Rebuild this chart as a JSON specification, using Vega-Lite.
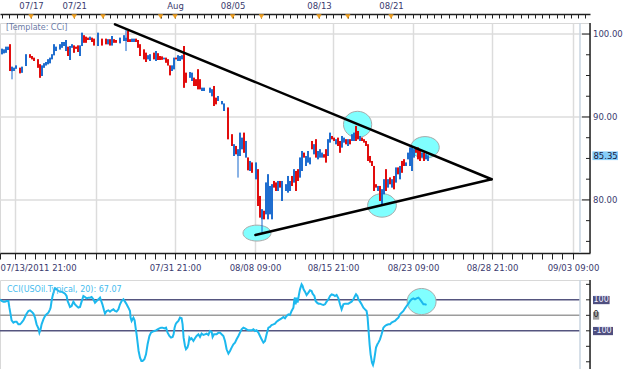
{
  "$schema": "https://vega.github.io/schema/vega-lite/v6.json",
  "padding": {"top": 0, "left": -5, "right": 0, "bottom": 0},
  "background": "#ffffff",
  "bounds": "flush",
  "spacing": 27,
  "config": {
    "view": {"stroke": "#d8d8d8", "strokeWidth": 1},
    "font": "DejaVu Sans",
    "text": {"font": "DejaVu Sans"},
    "axis": {"labelFont": "DejaVu Sans"}
  },
  "datasets": {
    "candles": [
      {"bar":1,"o":97.55,"h":98.23,"l":97.55,"c":98.23},{"bar":2,"o":97.67,"h":98.15,"l":97.67,"c":98.15},{"bar":3,"o":97.75,"h":98.47,"l":97.75,"c":98.47},{"bar":4,"o":98.07,"h":98.47,"l":98.07,"c":98.47},{"bar":5,"o":98.76,"h":98.76,"l":95.54,"c":95.54},{"bar":6,"o":95.5,"h":96.06,"l":94.54,"c":96.06},{"bar":7,"o":95.54,"h":95.94,"l":95.54,"c":95.94},{"bar":8,"o":95.82,"h":96.22,"l":95.82,"c":96.22},{"bar":10,"o":95.94,"h":95.94,"l":95.26,"c":95.26},{"bar":11,"o":95.34,"h":96.06,"l":95.34,"c":96.06},
      {"bar":13,"o":96.14,"h":97.55,"l":96.14,"c":97.55},{"bar":15,"o":97.55,"h":97.55,"l":97.15,"c":97.15},{"bar":16,"o":97.35,"h":97.35,"l":96.95,"c":96.95},{"bar":17,"o":97.15,"h":97.15,"l":96.75,"c":96.75},{"bar":19,"o":96.95,"h":96.95,"l":95.94,"c":95.94},{"bar":20,"o":96.35,"h":96.35,"l":94.74,"c":94.74},{"bar":21,"o":94.94,"h":96.22,"l":94.94,"c":96.22},{"bar":22,"o":95.94,"h":96.47,"l":95.94,"c":96.47},{"bar":23,"o":96.22,"h":96.63,"l":96.22,"c":96.63},{"bar":24,"o":96.35,"h":96.95,"l":96.35,"c":96.95},
      {"bar":25,"o":96.47,"h":97.15,"l":96.47,"c":97.15},{"bar":26,"o":96.95,"h":97.55,"l":96.95,"c":97.55},{"bar":27,"o":97.43,"h":98.76,"l":97.43,"c":98.76},{"bar":28,"o":97.95,"h":98.47,"l":97.95,"c":98.47},{"bar":30,"o":98.15,"h":98.76,"l":98.15,"c":98.76},{"bar":31,"o":98.35,"h":99.04,"l":98.35,"c":99.04},{"bar":32,"o":98.55,"h":99.04,"l":98.55,"c":99.04},{"bar":33,"o":97.95,"h":99.28,"l":97.95,"c":99.28},{"bar":34,"o":98.47,"h":98.47,"l":97.35,"c":97.35},{"bar":35,"o":96.87,"h":98.55,"l":96.87,"c":98.55},
      {"bar":36,"o":98.35,"h":98.76,"l":98.35,"c":98.76},{"bar":37,"o":98.63,"h":98.63,"l":97.75,"c":97.75},{"bar":38,"o":98.47,"h":98.47,"l":98.23,"c":98.23},{"bar":39,"o":98.63,"h":98.63,"l":97.83,"c":97.83},{"bar":40,"o":97.35,"h":98.63,"l":97.35,"c":98.63},{"bar":41,"o":98.55,"h":100.16,"l":98.55,"c":100.16},{"bar":42,"o":99.84,"h":99.84,"l":98.96,"c":98.96},{"bar":43,"o":99.68,"h":99.68,"l":98.96,"c":98.96},{"bar":44,"o":99.56,"h":99.56,"l":99.28,"c":99.28},{"bar":45,"o":99.28,"h":99.68,"l":99.28,"c":99.68},
      {"bar":46,"o":99.56,"h":99.56,"l":99.04,"c":99.04},{"bar":47,"o":99.44,"h":99.44,"l":98.63,"c":98.63},{"bar":49,"o":98.55,"h":100.16,"l":98.55,"c":100.16},{"bar":51,"o":99.44,"h":99.44,"l":98.63,"c":98.63},{"bar":53,"o":99.44,"h":99.44,"l":98.76,"c":98.76},{"bar":54,"o":98.76,"h":99.36,"l":98.76,"c":99.36},{"bar":55,"o":99.36,"h":99.36,"l":98.63,"c":98.63},{"bar":56,"o":98.63,"h":99.76,"l":98.63,"c":99.76},{"bar":57,"o":99.36,"h":99.36,"l":98.96,"c":98.96},{"bar":58,"o":99.28,"h":99.28,"l":98.96,"c":98.96},
      {"bar":60,"o":98.88,"h":99.56,"l":98.88,"c":99.56},{"bar":62,"o":99.16,"h":99.84,"l":99.16,"c":99.84},{"bar":63,"o":99.16,"h":100.48,"l":97.95,"c":99.56},{"bar":64,"o":100.36,"h":100.36,"l":99.04,"c":99.04},{"bar":65,"o":99.36,"h":99.36,"l":99.04,"c":99.04},{"bar":66,"o":99.04,"h":99.44,"l":99.04,"c":99.44},{"bar":67,"o":99.04,"h":99.44,"l":99.04,"c":99.44},{"bar":68,"o":99.44,"h":99.44,"l":99.04,"c":99.04},{"bar":69,"o":99.28,"h":99.28,"l":98.35,"c":98.35},{"bar":70,"o":98.76,"h":98.76,"l":97.35,"c":97.35},
      {"bar":72,"o":98.15,"h":98.15,"l":96.95,"c":96.95},{"bar":73,"o":97.75,"h":97.75,"l":96.63,"c":96.63},{"bar":74,"o":96.95,"h":97.43,"l":96.95,"c":97.43},{"bar":75,"o":96.75,"h":97.55,"l":96.75,"c":97.55},{"bar":77,"o":97.75,"h":97.75,"l":96.95,"c":96.95},{"bar":78,"o":96.75,"h":97.95,"l":96.75,"c":97.95},{"bar":79,"o":97.67,"h":97.67,"l":96.87,"c":96.87},{"bar":80,"o":97.35,"h":97.35,"l":96.87,"c":96.87},{"bar":81,"o":97.3,"h":97.3,"l":96.9,"c":96.9},{"bar":82,"o":96.95,"h":97.15,"l":96.95,"c":97.15},
      {"bar":83,"o":97.15,"h":97.15,"l":96.55,"c":96.55},{"bar":84,"o":96.95,"h":96.95,"l":96.22,"c":96.22},{"bar":85,"o":96.22,"h":96.22,"l":95.02,"c":95.02},{"bar":86,"o":95.54,"h":96.22,"l":95.54,"c":96.22},{"bar":87,"o":95.74,"h":97.15,"l":95.74,"c":97.15},{"bar":88,"o":97.15,"h":97.15,"l":96.95,"c":96.95},{"bar":89,"o":96.75,"h":97.43,"l":96.75,"c":97.43},{"bar":90,"o":96.75,"h":97.35,"l":96.75,"c":97.35},{"bar":91,"o":96.95,"h":97.43,"l":96.95,"c":97.43},{"bar":92,"o":98.55,"h":98.55,"l":93.53,"c":93.53},
      {"bar":93,"o":95.34,"h":95.34,"l":94.14,"c":94.14},{"bar":95,"o":94.74,"h":95.42,"l":94.74,"c":95.42},{"bar":96,"o":94.34,"h":95.34,"l":94.34,"c":95.34},{"bar":97,"o":94.74,"h":94.74,"l":93.74,"c":93.74},{"bar":98,"o":94.54,"h":94.54,"l":93.74,"c":93.74},{"bar":99,"o":95.74,"h":95.74,"l":93.33,"c":93.33},{"bar":100,"o":94.54,"h":94.54,"l":93.33,"c":93.33},{"bar":101,"o":93.13,"h":93.53,"l":93.13,"c":93.53},{"bar":102,"o":93.13,"h":93.53,"l":93.13,"c":93.53},{"bar":105,"o":92.93,"h":93.53,"l":92.93,"c":93.53},
      {"bar":106,"o":92.5,"h":93.33,"l":92.5,"c":93.33},{"bar":107,"o":93.74,"h":93.74,"l":91.32,"c":91.32},{"bar":108,"o":92.33,"h":92.33,"l":91.53,"c":91.53},{"bar":109,"o":91.93,"h":92.53,"l":91.93,"c":92.53},{"bar":111,"o":91.53,"h":91.93,"l":91.53,"c":91.93},{"bar":112,"o":90.72,"h":91.61,"l":90.72,"c":91.61},{"bar":114,"o":91.13,"h":91.13,"l":87.31,"c":87.31},{"bar":116,"o":87.91,"h":87.91,"l":86.51,"c":86.51},{"bar":117,"o":85.3,"h":86.71,"l":85.3,"c":86.71},{"bar":118,"o":86.51,"h":86.51,"l":85.5,"c":85.5},
      {"bar":119,"o":85.3,"h":86.11,"l":82.69,"c":86.11},{"bar":120,"o":85.3,"h":88.11,"l":85.3,"c":88.11},{"bar":121,"o":86.11,"h":87.51,"l":86.11,"c":87.51},{"bar":122,"o":88.11,"h":88.11,"l":85.7,"c":85.7},{"bar":123,"o":85.1,"h":87.11,"l":85.1,"c":87.11},{"bar":124,"o":85.1,"h":85.1,"l":83.58,"c":83.58},{"bar":125,"o":83.49,"h":84.7,"l":83.49,"c":84.7},{"bar":126,"o":84.5,"h":84.5,"l":83.29,"c":83.29},{"bar":128,"o":82.49,"h":84.5,"l":82.49,"c":84.5},{"bar":129,"o":83.7,"h":83.7,"l":79.28,"c":79.28},
      {"bar":130,"o":80.48,"h":80.48,"l":77.87,"c":77.87},{"bar":131,"o":77.67,"h":78.88,"l":76.07,"c":78.88},{"bar":132,"o":78.68,"h":78.68,"l":77.67,"c":77.67},{"bar":133,"o":78.27,"h":82.09,"l":78.27,"c":82.09},{"bar":134,"o":77.67,"h":83.09,"l":77.67,"c":83.09},{"bar":135,"o":78.27,"h":81.69,"l":78.27,"c":81.69},{"bar":136,"o":77.67,"h":81.89,"l":77.67,"c":81.89},{"bar":137,"o":82.29,"h":82.29,"l":81.49,"c":81.49},{"bar":138,"o":82.09,"h":82.09,"l":81.08,"c":81.08},{"bar":139,"o":81.08,"h":82.29,"l":81.08,"c":82.29},
      {"bar":140,"o":82.29,"h":82.29,"l":81.49,"c":81.49},{"bar":141,"o":79.88,"h":82.29,"l":79.88,"c":82.29},{"bar":143,"o":81.08,"h":81.89,"l":81.08,"c":81.89},{"bar":144,"o":80.88,"h":82.89,"l":80.88,"c":82.89},{"bar":145,"o":81.08,"h":82.29,"l":81.08,"c":82.29},{"bar":146,"o":82.89,"h":82.89,"l":81.69,"c":81.69},{"bar":147,"o":82.09,"h":83.7,"l":82.09,"c":83.7},{"bar":148,"o":83.49,"h":83.49,"l":81.08,"c":81.08},{"bar":149,"o":83.7,"h":83.7,"l":82.29,"c":82.29},{"bar":150,"o":82.69,"h":85.1,"l":82.69,"c":85.1},
      {"bar":151,"o":83.49,"h":85.9,"l":83.49,"c":85.9},{"bar":152,"o":85.7,"h":85.7,"l":85.1,"c":85.1},{"bar":153,"o":84.1,"h":85.3,"l":84.1,"c":85.3},{"bar":154,"o":84.5,"h":85.9,"l":84.5,"c":85.9},{"bar":155,"o":84.3,"h":85.1,"l":84.3,"c":85.1},{"bar":156,"o":87.11,"h":87.11,"l":86.11,"c":86.11},{"bar":157,"o":85.5,"h":86.71,"l":85.5,"c":86.71},{"bar":158,"o":87.31,"h":87.31,"l":85.1,"c":85.1},{"bar":159,"o":84.9,"h":85.9,"l":84.9,"c":85.9},{"bar":160,"o":85.1,"h":86.11,"l":85.1,"c":86.11},
      {"bar":161,"o":85.1,"h":85.7,"l":85.1,"c":85.7},{"bar":162,"o":85.5,"h":85.5,"l":85.1,"c":85.1},{"bar":163,"o":86.11,"h":86.11,"l":84.5,"c":84.5},{"bar":164,"o":85.3,"h":87.31,"l":85.3,"c":87.31},{"bar":165,"o":86.91,"h":88.11,"l":86.91,"c":88.11},{"bar":166,"o":87.71,"h":87.71,"l":87.31,"c":87.31},{"bar":167,"o":87.51,"h":87.51,"l":87.11,"c":87.11},{"bar":168,"o":86.71,"h":87.31,"l":86.71,"c":87.31},{"bar":169,"o":87.51,"h":87.51,"l":86.51,"c":86.51},{"bar":170,"o":87.11,"h":87.11,"l":85.7,"c":85.7},
      {"bar":171,"o":86.31,"h":87.71,"l":86.31,"c":87.71},{"bar":172,"o":86.91,"h":87.51,"l":86.91,"c":87.51},{"bar":173,"o":87.31,"h":87.31,"l":86.71,"c":86.71},{"bar":174,"o":86.51,"h":87.31,"l":86.51,"c":87.31},{"bar":175,"o":87.31,"h":87.31,"l":86.71,"c":86.71},{"bar":176,"o":87.11,"h":87.91,"l":87.11,"c":87.91},{"bar":177,"o":87.11,"h":88.11,"l":87.11,"c":88.11},{"bar":178,"o":88.92,"h":88.92,"l":87.11,"c":87.11},{"bar":179,"o":88.31,"h":88.31,"l":87.31,"c":87.31},{"bar":180,"o":87.11,"h":87.71,"l":87.11,"c":87.71},
      {"bar":181,"o":87.51,"h":87.51,"l":87.11,"c":87.11},{"bar":182,"o":87.31,"h":87.31,"l":86.91,"c":86.91},{"bar":183,"o":87.11,"h":87.11,"l":86.51,"c":86.51},{"bar":184,"o":86.71,"h":86.71,"l":84.7,"c":84.7},{"bar":185,"o":85.3,"h":85.3,"l":84.5,"c":84.5},{"bar":186,"o":84.7,"h":84.7,"l":84.1,"c":84.1},{"bar":187,"o":84.1,"h":84.1,"l":81.08,"c":81.08},{"bar":188,"o":81.89,"h":81.89,"l":81.49,"c":81.49},{"bar":189,"o":81.08,"h":81.69,"l":81.08,"c":81.69},{"bar":190,"o":81.69,"h":81.69,"l":79.88,"c":79.88},
      {"bar":191,"o":79.48,"h":81.29,"l":79.48,"c":81.29},{"bar":192,"o":80.68,"h":82.49,"l":80.68,"c":82.49},{"bar":193,"o":83.7,"h":83.7,"l":81.08,"c":81.08},{"bar":194,"o":81.49,"h":82.49,"l":81.49,"c":82.49},{"bar":195,"o":82.69,"h":82.69,"l":81.89,"c":81.89},{"bar":196,"o":81.49,"h":82.49,"l":81.49,"c":82.49},{"bar":197,"o":82.89,"h":82.89,"l":81.29,"c":81.29},{"bar":198,"o":82.09,"h":83.9,"l":82.09,"c":83.9},{"bar":199,"o":83.9,"h":83.9,"l":83.09,"c":83.09},{"bar":200,"o":82.49,"h":84.1,"l":82.49,"c":84.1},
      {"bar":201,"o":84.7,"h":84.7,"l":83.29,"c":83.29},{"bar":202,"o":84.9,"h":84.9,"l":84.1,"c":84.1},{"bar":203,"o":84.1,"h":84.5,"l":84.1,"c":84.5},{"bar":204,"o":84.9,"h":85.7,"l":84.9,"c":85.7},{"bar":205,"o":84.1,"h":86.31,"l":84.1,"c":86.31},{"bar":206,"o":83.49,"h":86.31,"l":83.49,"c":86.31},{"bar":207,"o":85.1,"h":86.11,"l":85.1,"c":86.11},{"bar":208,"o":86.31,"h":86.31,"l":85.7,"c":85.7},{"bar":209,"o":86.31,"h":86.31,"l":84.9,"c":84.9},{"bar":210,"o":86.11,"h":86.11,"l":84.7,"c":84.7},
      {"bar":211,"o":85.1,"h":85.7,"l":85.1,"c":85.7},{"bar":212,"o":85.7,"h":85.7,"l":84.7,"c":84.7},{"bar":213,"o":84.9,"h":85.5,"l":84.9,"c":85.5},{"bar":214,"o":84.7,"h":85.4,"l":84.7,"c":85.35}
    ],
    "cci": [
      {"bar":0,"cci":103.2},{"bar":0.8,"cci":92.5},{"bar":1.7,"cci":88.2},{"bar":2.5,"cci":88.2},{"bar":3.3,"cci":92.5},{"bar":4.2,"cci":92.5},{"bar":4.7,"cci":49.5},{"bar":5.3,"cci":6.5},{"bar":5.8,"cci":-32.3},{"bar":6.7,"cci":-47.3},
      {"bar":7.5,"cci":-40.9},{"bar":8.3,"cci":-40.9},{"bar":9.2,"cci":-58.1},{"bar":10,"cci":-58.1},{"bar":10.8,"cci":-47.3},{"bar":11.7,"cci":-32.3},{"bar":12.5,"cci":-10.8},{"bar":13.3,"cci":10.8},{"bar":14.2,"cci":28},{"bar":15,"cci":32.3},
      {"bar":15.8,"cci":23.7},{"bar":16.7,"cci":10.8},{"bar":17.5,"cci":-15.1},{"bar":18.3,"cci":-58.1},{"bar":19.2,"cci":-83.9},{"bar":19.7,"cci":-111.9},{"bar":20.3,"cci":-90.3},{"bar":20.8,"cci":-58.1},{"bar":21.7,"cci":-25.8},{"bar":22.5,"cci":-4.3},
      {"bar":23.3,"cci":6.5},{"bar":24.2,"cci":17.2},{"bar":25,"cci":38.7},{"bar":25.3,"cci":49.5},{"bar":25.8,"cci":92.5},{"bar":26.3,"cci":124.8},{"bar":27,"cci":157},{"bar":27.5,"cci":174.2},{"bar":28.3,"cci":167.8},{"bar":29.2,"cci":157},
      {"bar":30,"cci":152.7},{"bar":30.8,"cci":152.7},{"bar":31.7,"cci":146.3},{"bar":32.5,"cci":139.8},{"bar":33.3,"cci":124.8},{"bar":33.8,"cci":92.5},{"bar":34.5,"cci":71},{"bar":35,"cci":53.8},{"bar":35.8,"cci":60.2},{"bar":36.7,"cci":88.2},
      {"bar":37.5,"cci":71},{"bar":38.3,"cci":60.2},{"bar":39.2,"cci":49.5},{"bar":40,"cci":53.8},{"bar":40.8,"cci":88.2},{"bar":41.7,"cci":124.8},{"bar":42.5,"cci":118.3},{"bar":43.3,"cci":109.7},{"bar":44.2,"cci":114},{"bar":45,"cci":114},
      {"bar":45.8,"cci":118.3},{"bar":46.7,"cci":103.2},{"bar":47.5,"cci":81.7},{"bar":48.3,"cci":92.5},{"bar":49.2,"cci":103.2},{"bar":50,"cci":114},{"bar":50.5,"cci":96.8},{"bar":51.2,"cci":71},{"bar":52,"cci":32.3},{"bar":52.5,"cci":10.8},
      {"bar":53.3,"cci":28},{"bar":54.2,"cci":32.3},{"bar":55,"cci":23.7},{"bar":55.8,"cci":32.3},{"bar":56.7,"cci":38.7},{"bar":57.5,"cci":28},{"bar":58.3,"cci":23.7},{"bar":59.2,"cci":38.7},{"bar":60,"cci":71},{"bar":60.8,"cci":92.5},
      {"bar":61.7,"cci":103.2},{"bar":62.5,"cci":88.2},{"bar":63.3,"cci":71},{"bar":64.2,"cci":49.5},{"bar":65,"cci":28},{"bar":65.3,"cci":-15.1},{"bar":65.8,"cci":-36.6},{"bar":66.7,"cci":-15.1},{"bar":67.3,"cci":-32.3},{"bar":67.8,"cci":-79.6},
      {"bar":68.3,"cci":-122.6},{"bar":68.8,"cci":-176.4},{"bar":69.3,"cci":-230.2},{"bar":70,"cci":-273.2},{"bar":70.7,"cci":-294.7},{"bar":71.3,"cci":-294.7},{"bar":72.2,"cci":-284},{"bar":73,"cci":-251.7},{"bar":73.8,"cci":-187.1},{"bar":74.7,"cci":-133.4},
      {"bar":75.5,"cci":-111.9},{"bar":76.3,"cci":-105.4},{"bar":77.2,"cci":-101.1},{"bar":78,"cci":-96.8},{"bar":78.8,"cci":-90.3},{"bar":79.7,"cci":-83.9},{"bar":80.5,"cci":-79.6},{"bar":81.3,"cci":-79.6},{"bar":82.2,"cci":-83.9},{"bar":83,"cci":-79.6},
      {"bar":83.8,"cci":-111.9},{"bar":84.7,"cci":-133.4},{"bar":85.5,"cci":-144.1},{"bar":86.3,"cci":-139.8},{"bar":86.8,"cci":-122.6},{"bar":87.3,"cci":-79.6},{"bar":87.8,"cci":-58.1},{"bar":88.3,"cci":-47.3},{"bar":89.2,"cci":-36.6},{"bar":90,"cci":-15.1},
      {"bar":90.8,"cci":-19.4},{"bar":91.3,"cci":-58.1},{"bar":91.8,"cci":-144.1},{"bar":92.5,"cci":-197.9},{"bar":93,"cci":-219.4},{"bar":93.7,"cci":-208.6},{"bar":94.2,"cci":-187.1},{"bar":94.7,"cci":-144.1},{"bar":95.3,"cci":-154.9},{"bar":95.8,"cci":-148.4},
      {"bar":96.7,"cci":-165.6},{"bar":97.5,"cci":-148.4},{"bar":98.3,"cci":-133.4},{"bar":99.2,"cci":-122.6},{"bar":100,"cci":-139.8},{"bar":100.8,"cci":-118.3},{"bar":101.7,"cci":-126.9},{"bar":102.5,"cci":-122.6},{"bar":103.3,"cci":-118.3},{"bar":104.2,"cci":-126.9},
      {"bar":105,"cci":-101.1},{"bar":105.8,"cci":-105.4},{"bar":106.3,"cci":-139.8},{"bar":107,"cci":-122.6},{"bar":107.5,"cci":-122.6},{"bar":108.3,"cci":-122.6},{"bar":109.2,"cci":-111.9},{"bar":110,"cci":-111.9},{"bar":110.8,"cci":-122.6},{"bar":111.7,"cci":-133.4},
      {"bar":112.5,"cci":-165.6},{"bar":113.3,"cci":-219.4},{"bar":114.2,"cci":-247.4},{"bar":115,"cci":-230.2},{"bar":115.8,"cci":-208.6},{"bar":116.7,"cci":-187.1},{"bar":117.5,"cci":-176.4},{"bar":118.3,"cci":-154.9},{"bar":119.2,"cci":-133.4},{"bar":120,"cci":-111.9},
      {"bar":120.8,"cci":-90.3},{"bar":121.7,"cci":-79.6},{"bar":122.5,"cci":-83.9},{"bar":123.3,"cci":-90.3},{"bar":124.2,"cci":-96.8},{"bar":125,"cci":-96.8},{"bar":125.8,"cci":-96.8},{"bar":126.7,"cci":-90.3},{"bar":127.5,"cci":-101.1},{"bar":128.3,"cci":-96.8},
      {"bar":129.2,"cci":-111.9},{"bar":130,"cci":-133.4},{"bar":130.8,"cci":-154.9},{"bar":131.7,"cci":-176.4},{"bar":132.5,"cci":-165.6},{"bar":133.3,"cci":-122.6},{"bar":134.2,"cci":-79.6},{"bar":135,"cci":-75.3},{"bar":135.8,"cci":-62.4},{"bar":136.7,"cci":-58.1},
      {"bar":137.5,"cci":-53.8},{"bar":138.3,"cci":-40.9},{"bar":139.2,"cci":-32.3},{"bar":140,"cci":-25.8},{"bar":140.8,"cci":-19.4},{"bar":141.7,"cci":-10.8},{"bar":142.5,"cci":-19.4},{"bar":143.3,"cci":-4.3},{"bar":144.2,"cci":6.5},{"bar":145,"cci":2.2},
      {"bar":145.8,"cci":28},{"bar":146.7,"cci":49.5},{"bar":147.2,"cci":103.2},{"bar":147.5,"cci":114},{"bar":147.8,"cci":71},{"bar":148.3,"cci":114},{"bar":148.8,"cci":81.7},{"bar":149.5,"cci":135.5},{"bar":150,"cci":167.8},{"bar":150.8,"cci":200},
      {"bar":151.3,"cci":189.3},{"bar":151.8,"cci":167.8},{"bar":152.5,"cci":152.7},{"bar":153.3,"cci":131.2},{"bar":154.2,"cci":146.3},{"bar":155,"cci":161.3},{"bar":155.8,"cci":157},{"bar":156.3,"cci":139.8},{"bar":157.2,"cci":124.8},{"bar":157.8,"cci":92.5},
      {"bar":158.5,"cci":81.7},{"bar":159.2,"cci":75.3},{"bar":160,"cci":75.3},{"bar":160.8,"cci":71},{"bar":161.7,"cci":66.7},{"bar":162.5,"cci":71},{"bar":163.3,"cci":88.2},{"bar":164.2,"cci":103.2},{"bar":165,"cci":124.8},{"bar":165.8,"cci":135.5},
      {"bar":166.7,"cci":131.2},{"bar":167.5,"cci":124.8},{"bar":168.3,"cci":131.2},{"bar":169.2,"cci":109.7},{"bar":170,"cci":71},{"bar":170.8,"cci":38.7},{"bar":171.7,"cci":71},{"bar":172.5,"cci":75.3},{"bar":173.3,"cci":75.3},{"bar":174.2,"cci":75.3},
      {"bar":175,"cci":81.7},{"bar":175.8,"cci":88.2},{"bar":176.7,"cci":103.2},{"bar":177.5,"cci":124.8},{"bar":178,"cci":135.5},{"bar":178.7,"cci":124.8},{"bar":179.2,"cci":103.2},{"bar":180,"cci":88.2},{"bar":180.8,"cci":71},{"bar":181.7,"cci":49.5},
      {"bar":182.5,"cci":38.7},{"bar":183.3,"cci":28},{"bar":183.8,"cci":-15.1},{"bar":184.3,"cci":-101.1},{"bar":184.8,"cci":-187.1},{"bar":185.3,"cci":-251.7},{"bar":186,"cci":-305.4},{"bar":186.5,"cci":-320.5},{"bar":187,"cci":-294.7},{"bar":187.5,"cci":-251.7},
      {"bar":188,"cci":-208.6},{"bar":188.7,"cci":-187.1},{"bar":189.2,"cci":-176.4},{"bar":190,"cci":-154.9},{"bar":190.8,"cci":-122.6},{"bar":191.7,"cci":-79.6},{"bar":192.5,"cci":-68.8},{"bar":193.3,"cci":-62.4},{"bar":194.2,"cci":-58.1},{"bar":195,"cci":-58.1},
      {"bar":195.8,"cci":-47.3},{"bar":196.7,"cci":-40.9},{"bar":197.5,"cci":-36.6},{"bar":198.3,"cci":-25.8},{"bar":199.2,"cci":-15.1},{"bar":200,"cci":6.5},{"bar":200.8,"cci":17.2},{"bar":201.7,"cci":28},{"bar":202.5,"cci":45.2},{"bar":203.3,"cci":60.2},
      {"bar":204.2,"cci":75.3},{"bar":205,"cci":92.5},{"bar":205.8,"cci":103.2},{"bar":206.7,"cci":109.7},{"bar":207.5,"cci":103.2},{"bar":208.3,"cci":109.7},{"bar":209.2,"cci":114},{"bar":210,"cci":103.2},{"bar":210.8,"cci":88.2},{"bar":211.7,"cci":71},
      {"bar":212.5,"cci":71},{"bar":213.3,"cci":67.07}
    ],
    "ellipses": [
      {"id":"e1","bar":128.5,"val":76.0,"panel":"price"},
      {"id":"e2","bar":178.8,"val":89.1,"panel":"price"},
      {"id":"e3","bar":212.5,"val":86.33,"panel":"price"},
      {"id":"e4","bar":191,"val":79.34,"panel":"price"},
      {"id":"e5","bar":210.8,"val":89,"panel":"cci"}
    ],
    "trend": [
      {"bar":57.5,"p":101.17,"bar2":245.8,"p2":82.49},
      {"bar":127.7,"p":75.78,"bar2":245.8,"p2":82.49}
    ],
    "markers": [
      {"bar":15.5},{"bar":37.1},{"bar":51.5},{"bar":80.3},{"bar":87.5},{"bar":116.3},{"bar":130.7},{"bar":159.5},{"bar":173.9},{"bar":195.5}
    ],
    "pmajor": [{"v":80},{"v":90},{"v":100}],
    "pminor": [{"v":75},{"v":77.5},{"v":82.5},{"v":85},{"v":87.5},{"v":92.5},{"v":95},{"v":97.5}],
    "cticks": [{"v":-300},{"v":-200},{"v":-100},{"v":0},{"v":100},{"v":200}],
    "levels": [{"lvl":100},{"lvl":0},{"lvl":-100}]
  },
  "vconcat": [
    {
      "width": 590,
      "height": 230,
      "layer": [
        {
          "data": {"name": "pmajor"},
          "mark": {"type": "rule", "color": "#dcdcdc", "strokeWidth": 1.5},
          "encoding": {
            "x": {"datum": 0, "type": "quantitative", "scale": {"domain": [0, 295], "nice": false, "zero": false}, "axis": null},
            "x2": {"datum": 295},
            "y": {"field": "v", "type": "quantitative", "scale": {"domain": [73.6, 101.33], "nice": false, "zero": false}, "axis": null}
          }
        },
        {
          "data": {"name": "ellipses"},
          "transform": [{"filter": "datum.panel == 'price'"}],
          "mark": {"type": "point", "filled": true, "fill": "#80ffff", "stroke": "#aaaaaa", "strokeWidth": 1, "opacity": 1, "fillOpacity": 1},
          "encoding": {
            "x": {"field": "bar", "type": "quantitative", "scale": {"domain": [0, 295], "nice": false, "zero": false}, "axis": null},
            "y": {"field": "val", "type": "quantitative", "scale": {"domain": [73.6, 101.33], "nice": false, "zero": false}, "axis": null},
            "shape": {"field": "id", "type": "nominal", "scale": {"domain": ["e1","e2","e3","e4","e5"], "range": ["M-1,0A1,0.57,0,1,1,1,0A1,0.57,0,1,1,-1,0Z","M-1,0A1,0.93,0,1,1,1,0A1,0.93,0,1,1,-1,0Z","M-1,0A1,0.76,0,1,1,1,0A1,0.76,0,1,1,-1,0Z","M-1,0A1,0.82,0,1,1,1,0A1,0.82,0,1,1,-1,0Z","M-1,0A1,0.9,0,1,1,1,0A1,0.9,0,1,1,-1,0Z"]}, "legend": null},
            "size": {"field": "id", "type": "ordinal", "scale": {"domain": ["e1","e2","e3","e4","e5"], "range": [784, 841, 1444, 784, 441]}, "legend": null}
          }
        },
        {
          "data": {"name": "candles"},
          "mark": {"type": "rule", "strokeWidth": 1},
          "encoding": {
            "x": {"field": "bar", "type": "quantitative", "scale": {"domain": [0, 295], "nice": false, "zero": false}, "axis": null},
            "y": {"field": "h", "type": "quantitative", "scale": {"domain": [73.6, 101.33], "nice": false, "zero": false}, "axis": null},
            "y2": {"field": "l"},
            "color": {"condition": {"test": "datum.c < datum.o", "value": "#e00000"}, "value": "#1466cc"}
          }
        },
        {
          "data": {"name": "candles"},
          "mark": {"type": "rule", "strokeWidth": 1.8},
          "encoding": {
            "x": {
              "field": "bar", "type": "quantitative",
              "scale": {"domain": [0, 295], "nice": false, "zero": false},
              "axis": {
                "orient": "bottom", "title": null,
                "values": [0,7.5,12.5,17.5,22.5,27.5,32.5,37.5,42.5,48,52.5,57.5,62.5,67.5,72.5,77.5,82.5,87.5,92.5,97.5,102.5,107.5,112.5,117.5,122.5,127.5,132.5,137.5,142.5,147.5,152.5,157.5,161.5,166.5,171.5,176.5,181.5,186.5,191.5,196.5,201.5,206.5,211.5,216.5,221.5,226.5,231.5,236.5,241.5,246,251,256,261,266,271,276,281,286.5],
                "grid": true,
                "gridColor": {"condition": {"test": "indexof([7.5,48,87.5,127.5,166.5,206.5,246,286.5], datum.value) >= 0", "value": "#dcdcdc"}, "value": "rgba(0,0,0,0)"},
                "gridWidth": 1.5,
                "domainColor": "#202020", "domainWidth": 1.5,
                "tickColor": "#202020", "tickSize": 6,
                "labelExpr": "datum.value == 0 ? '07/13/2011 21:00' : datum.value == 87.5 ? '07/31  21:00' : datum.value == 127.5 ? '08/08 09:00' : datum.value == 166.5 ? '08/15  21:00' : datum.value == 206.5 ? '08/23 09:00' : datum.value == 246 ? '08/28  21:00' : datum.value == 286.5 ? '09/03 09:00' : ''",
                "labelFontSize": 8.5, "labelColor": "#3a3a6e", "labelPadding": 4,
                "labelFlush": 5, "labelOverlap": false, "labelBound": false
              }
            },
            "y": {"field": "o", "type": "quantitative", "scale": {"domain": [73.6, 101.33], "nice": false, "zero": false}, "axis": null},
            "y2": {"field": "c"},
            "color": {"condition": {"test": "datum.c < datum.o", "value": "#e00000"}, "value": "#1466cc"}
          }
        },
        {
          "data": {"name": "trend"},
          "mark": {"type": "rule", "strokeWidth": 2.5, "color": "#000000", "strokeCap": "round"},
          "encoding": {
            "x": {"field": "bar", "type": "quantitative", "scale": {"domain": [0, 295], "nice": false, "zero": false}, "axis": null},
            "y": {"field": "p", "type": "quantitative", "scale": {"domain": [73.6, 101.33], "nice": false, "zero": false}, "axis": null},
            "x2": {"field": "bar2"},
            "y2": {"field": "p2"}
          }
        },
        {
          "data": {"values": [{}]},
          "mark": {"type": "rule", "color": "#c8d4e0", "strokeWidth": 1.5},
          "encoding": {
            "x": {"datum": 290, "type": "quantitative", "scale": {"domain": [0, 295], "nice": false, "zero": false}, "axis": null}
          }
        },
        {
          "data": {"values": [{}]},
          "mark": {"type": "rule", "color": "#202020", "strokeWidth": 1.5},
          "encoding": {
            "x": {"datum": 295, "type": "quantitative", "scale": {"domain": [0, 295], "nice": false, "zero": false}, "axis": null}
          }
        },
        {
          "data": {"name": "pmajor"},
          "mark": {"type": "rule", "color": "#202020", "strokeWidth": 1},
          "encoding": {
            "x": {"datum": 291, "type": "quantitative", "scale": {"domain": [0, 295], "nice": false, "zero": false}, "axis": null},
            "x2": {"datum": 295},
            "y": {"field": "v", "type": "quantitative", "scale": {"domain": [73.6, 101.33], "nice": false, "zero": false}, "axis": null}
          }
        },
        {
          "data": {"name": "pminor"},
          "mark": {"type": "rule", "color": "#202020", "strokeWidth": 1},
          "encoding": {
            "x": {"datum": 293, "type": "quantitative", "scale": {"domain": [0, 295], "nice": false, "zero": false}, "axis": null},
            "x2": {"datum": 295},
            "y": {"field": "v", "type": "quantitative", "scale": {"domain": [73.6, 101.33], "nice": false, "zero": false}, "axis": null}
          }
        },
        {
          "data": {"name": "pmajor"},
          "mark": {"type": "text", "align": "left", "baseline": "middle", "fontSize": 8.5, "color": "#3a3a6e"},
          "encoding": {
            "x": {"datum": 296.5, "type": "quantitative", "scale": {"domain": [0, 295], "nice": false, "zero": false}, "axis": null},
            "y": {"field": "v", "type": "quantitative", "scale": {"domain": [73.6, 101.33], "nice": false, "zero": false}, "axis": null},
            "text": {"field": "v", "type": "quantitative", "format": ".2f"}
          }
        },
        {
          "data": {"name": "markers"},
          "mark": {"type": "point", "shape": "triangle-down", "filled": true, "color": "#f0a020", "size": 28, "opacity": 1},
          "encoding": {
            "x": {
              "field": "bar", "type": "quantitative",
              "scale": {"domain": [0, 295], "nice": false, "zero": false},
              "axis": {
                "orient": "top", "offset": 9, "title": null, "grid": false,
                "values": [1.1,4.7,8.3,11.9,15.5,19.1,22.7,26.3,29.9,33.5,37.1,40.7,44.3,47.9,51.5,55.1,58.7,62.3,65.9,69.5,73.1,76.7,80.3,83.9,87.5,91.1,94.7,98.3,101.9,105.5,109.1,112.7,116.3,119.9,123.5,127.1,130.7,134.3,137.9,141.5,145.1,148.7,152.3,155.9,159.5,163.1,166.7,170.3,173.9,177.5,181.1,184.7,188.3,191.9,195.5,199.1,202.7,206.3,209.9,213.5,217.1,220.7,224.3,227.9,231.5,235.1,238.7,242.3,245.9,249.5,253.1,256.7,260.3,263.9,267.5,271.1,274.7,278.3,281.9,285.5,289.1,292.7],
                "labelExpr": "datum.value == 15.5 ? '07/17' : datum.value == 37.1 ? '07/21' : datum.value == 87.5 ? 'Aug' : datum.value == 116.3 ? '08/05' : datum.value == 159.5 ? '08/13' : datum.value == 195.5 ? '08/21' : ''",
                "tickSize": -4, "tickColor": "#202020",
                "domainColor": "#202020", "domainWidth": 1.5,
                "labelPadding": 8, "labelFontSize": 8.5, "labelColor": "#3a3a6e",
                "labelOverlap": false, "labelBound": false, "labelFlush": false
              }
            },
            "y": {"datum": 102.1, "type": "quantitative", "scale": {"domain": [73.6, 101.33], "nice": false, "zero": false}, "axis": null}
          }
        },
        {
          "data": {"values": [{}]},
          "mark": {"type": "text", "text": "[Template: CCi]", "align": "left", "baseline": "middle", "fontSize": 8, "color": "#6a7aa6"},
          "encoding": {
            "x": {"datum": 3, "type": "quantitative", "scale": {"domain": [0, 295], "nice": false, "zero": false}, "axis": null},
            "y": {"datum": 100.72, "type": "quantitative", "scale": {"domain": [73.6, 101.33], "nice": false, "zero": false}, "axis": null}
          }
        },
        {
          "data": {"values": [{}]},
          "mark": {"type": "rect", "color": "#86cefa"},
          "encoding": {
            "x": {"datum": 296.2, "type": "quantitative", "scale": {"domain": [0, 295], "nice": false, "zero": false}, "axis": null},
            "x2": {"datum": 309},
            "y": {"datum": 85.85, "type": "quantitative", "scale": {"domain": [73.6, 101.33], "nice": false, "zero": false}, "axis": null},
            "y2": {"datum": 84.8}
          }
        },
        {
          "data": {"values": [{}]},
          "mark": {"type": "text", "text": "85.35", "align": "left", "baseline": "middle", "fontSize": 8.5, "color": "#1a1a40", "dx": 1},
          "encoding": {
            "x": {"datum": 296.2, "type": "quantitative", "scale": {"domain": [0, 295], "nice": false, "zero": false}, "axis": null},
            "y": {"datum": 85.32, "type": "quantitative", "scale": {"domain": [73.6, 101.33], "nice": false, "zero": false}, "axis": null}
          }
        }
      ]
    },
    {
      "width": 590,
      "height": 90,
      "layer": [
        {
          "data": {"name": "levels"},
          "mark": {"type": "rule", "strokeWidth": 1.5},
          "encoding": {
            "x": {"datum": 0, "type": "quantitative", "scale": {"domain": [0, 295], "nice": false, "zero": false}, "axis": null},
            "x2": {"datum": 290},
            "y": {"field": "lvl", "type": "quantitative", "scale": {"domain": [-353, 228], "nice": false, "zero": false}, "axis": null},
            "color": {"field": "lvl", "type": "nominal", "scale": {"domain": [100, 0, -100], "range": ["#55557f", "#9c9c9c", "#55557f"]}, "legend": null}
          }
        },
        {
          "data": {"name": "ellipses"},
          "transform": [{"filter": "datum.panel == 'cci'"}],
          "mark": {"type": "point", "filled": true, "fill": "#80ffff", "stroke": "#aaaaaa", "strokeWidth": 1, "opacity": 1, "fillOpacity": 1},
          "encoding": {
            "x": {"field": "bar", "type": "quantitative", "scale": {"domain": [0, 295], "nice": false, "zero": false}, "axis": null},
            "y": {"field": "val", "type": "quantitative", "scale": {"domain": [-353, 228], "nice": false, "zero": false}, "axis": null},
            "shape": {"field": "id", "type": "nominal", "scale": {"domain": ["e1","e2","e3","e4","e5"], "range": ["M-1,0A1,0.57,0,1,1,1,0A1,0.57,0,1,1,-1,0Z","M-1,0A1,0.93,0,1,1,1,0A1,0.93,0,1,1,-1,0Z","M-1,0A1,0.76,0,1,1,1,0A1,0.76,0,1,1,-1,0Z","M-1,0A1,0.82,0,1,1,1,0A1,0.82,0,1,1,-1,0Z","M-1,0A1,0.9,0,1,1,1,0A1,0.9,0,1,1,-1,0Z"]}, "legend": null},
            "size": {"field": "id", "type": "ordinal", "scale": {"domain": ["e1","e2","e3","e4","e5"], "range": [784, 841, 1444, 784, 441]}, "legend": null}
          }
        },
        {
          "data": {"name": "cci"},
          "mark": {"type": "line", "color": "#1cb8ee", "strokeWidth": 2},
          "encoding": {
            "x": {
              "field": "bar", "type": "quantitative",
              "scale": {"domain": [0, 295], "nice": false, "zero": false},
              "axis": {"orient": "bottom", "title": null, "values": [7.5,48,87.5,127.5,166.5,206.5,246,286.5], "grid": true, "gridColor": "#dcdcdc", "gridWidth": 1.5, "labels": false, "ticks": false, "domain": false}
            },
            "y": {"field": "cci", "type": "quantitative", "scale": {"domain": [-353, 228], "nice": false, "zero": false}, "axis": null}
          }
        },
        {
          "data": {"values": [{}]},
          "mark": {"type": "rule", "color": "#c8d4e0", "strokeWidth": 1.5},
          "encoding": {
            "x": {"datum": 290, "type": "quantitative", "scale": {"domain": [0, 295], "nice": false, "zero": false}, "axis": null}
          }
        },
        {
          "data": {"values": [{}]},
          "mark": {"type": "rule", "color": "#202020", "strokeWidth": 1.5},
          "encoding": {
            "x": {"datum": 295, "type": "quantitative", "scale": {"domain": [0, 295], "nice": false, "zero": false}, "axis": null}
          }
        },
        {
          "data": {"name": "cticks"},
          "mark": {"type": "rule", "color": "#202020", "strokeWidth": 1},
          "encoding": {
            "x": {"datum": 293, "type": "quantitative", "scale": {"domain": [0, 295], "nice": false, "zero": false}, "axis": null},
            "x2": {"datum": 295},
            "y": {"field": "v", "type": "quantitative", "scale": {"domain": [-353, 228], "nice": false, "zero": false}, "axis": null}
          }
        },
        {
          "data": {"values": [{}]},
          "mark": {"type": "text", "text": "CCI(USOil.Typical, 20): 67.07", "align": "left", "baseline": "middle", "fontSize": 8, "color": "#44bbee"},
          "encoding": {
            "x": {"datum": 3.5, "type": "quantitative", "scale": {"domain": [0, 295], "nice": false, "zero": false}, "axis": null},
            "y": {"datum": 163, "type": "quantitative", "scale": {"domain": [-353, 228], "nice": false, "zero": false}, "axis": null}
          }
        },
        {
          "data": {"values": [{}]},
          "mark": {"type": "rect", "color": "#4f4f7f"},
          "encoding": {
            "x": {"datum": 296.5, "type": "quantitative", "scale": {"domain": [0, 295], "nice": false, "zero": false}, "axis": null},
            "x2": {"datum": 304.8},
            "y": {"datum": 125, "type": "quantitative", "scale": {"domain": [-353, 228], "nice": false, "zero": false}, "axis": null},
            "y2": {"datum": 72}
          }
        },
        {
          "data": {"values": [{}]},
          "mark": {"type": "rect", "color": "#a0a0a0"},
          "encoding": {
            "x": {"datum": 296.5, "type": "quantitative", "scale": {"domain": [0, 295], "nice": false, "zero": false}, "axis": null},
            "x2": {"datum": 299.6},
            "y": {"datum": 22, "type": "quantitative", "scale": {"domain": [-353, 228], "nice": false, "zero": false}, "axis": null},
            "y2": {"datum": -28}
          }
        },
        {
          "data": {"values": [{}]},
          "mark": {"type": "rect", "color": "#4f4f7f"},
          "encoding": {
            "x": {"datum": 296.5, "type": "quantitative", "scale": {"domain": [0, 295], "nice": false, "zero": false}, "axis": null},
            "x2": {"datum": 306.5},
            "y": {"datum": -75, "type": "quantitative", "scale": {"domain": [-353, 228], "nice": false, "zero": false}, "axis": null},
            "y2": {"datum": -128}
          }
        },
        {
          "data": {"name": "levels"},
          "mark": {"type": "text", "align": "left", "baseline": "middle", "fontSize": 8, "dx": 0.5},
          "encoding": {
            "x": {"datum": 296.5, "type": "quantitative", "scale": {"domain": [0, 295], "nice": false, "zero": false}, "axis": null},
            "y": {"field": "lvl", "type": "quantitative", "scale": {"domain": [-353, 228], "nice": false, "zero": false}, "axis": null},
            "text": {"field": "lvl", "type": "nominal"},
            "color": {"condition": {"test": "datum.lvl == 0", "value": "#222222"}, "value": "#eeeeff"}
          }
        }
      ]
    }
  ]
}
